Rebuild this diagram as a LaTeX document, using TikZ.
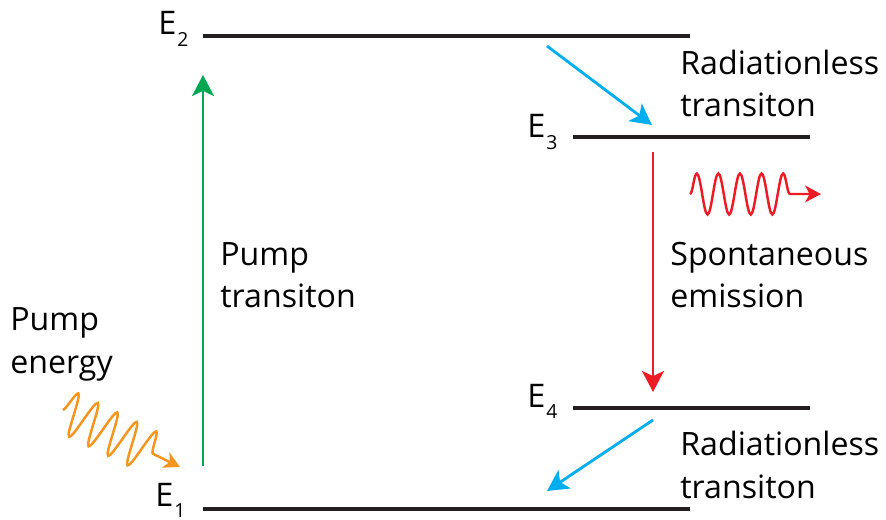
\documentclass[tikz,border=0pt]{standalone}
\usepackage{fontspec}
\setmainfont{Open Sans}
\usetikzlibrary{arrows.meta,decorations.pathmorphing}
\definecolor{levelblack}{HTML}{231F20}
\definecolor{pumpgreen}{HTML}{00A651}
\definecolor{relaxblue}{HTML}{00AEEF}
\definecolor{emitred}{HTML}{ED1C24}
\definecolor{pumporange}{HTML}{F7941D}
\tikzset{
  level/.style={
    line width = 2.8pt,
    draw = levelblack
  },
  trans/.style={
    line width = 1.6pt,
    -{Stealth[length=12pt, width=12.5pt, inset=3pt]}
  },
  photon/.style={
    decorate,
    line width = 1.4pt,
    -{Stealth[length=9pt, width=9.5pt, inset=2.5pt]}
  },
  lbl/.style={
    anchor = base west,
    inner sep = 0pt,
    align = left,
    font = \fontsize{18.3}{24.2}\selectfont
  },
  elbl/.style={
    anchor = base west,
    inner sep = 0pt,
    font = \fontsize{18.5}{18.5}\selectfont
  }
}
\newcommand{\En}[1]{E\kern0.5pt\raisebox{-6.8pt}{\fontsize{11}{11}\selectfont #1}}

\begin{document}
\begin{tikzpicture}[x=0.02cm, y=-0.02cm]
    \useasboundingbox (0,0) rectangle (886,520);
    % energy levels
    \coordinate (E2a) at (203,36);  \coordinate (E2b) at (690,36);
    \coordinate (E3a) at (573,137); \coordinate (E3b) at (810,137);
    \coordinate (E4a) at (573,408); \coordinate (E4b) at (810,408);
    \coordinate (E1a) at (203,509); \coordinate (E1b) at (690,509);
    \foreach \lv in {E1, E2, E3, E4}{
        \draw[level] (\lv a) -- (\lv b);
    }
    \node[elbl] (lE2) at (158,35)  {\En{2}};
    \node[elbl] (lE3) at (527,138) {\En{3}};
    \node[elbl] (lE4) at (527,407) {\En{4}};
    \node[elbl] (lE1) at (155,506) {\En{1}};
    % transitions
    \coordinate (pumpS) at (203,466);  \coordinate (pumpT) at (203,75);
    \coordinate (rad1S) at (547,46);   \coordinate (rad1T) at (652,125);
    \coordinate (spoS)  at (653,152);  \coordinate (spoT)  at (653,392);
    \coordinate (rad2S) at (653,420);  \coordinate (rad2T) at (547,491);
    \draw[trans, pumpgreen] (pumpS) -- (pumpT);
    \draw[trans, relaxblue] (rad1S) -- (rad1T);
    \draw[trans, emitred]   (spoS)  -- (spoT);
    \draw[trans, relaxblue] (rad2S) -- (rad2T);
    % photons
    \coordinate (inS)  at (62.75,409.7); \coordinate (inT)  at (180,467);
    \coordinate (outS) at (690,194);     \coordinate (outT) at (821,194);
    \draw[photon, pumporange, decoration={snake, segment length=0.434cm, amplitude=0.43cm, post length=0.43cm}] (inS) -- (inT);
    \draw[photon, emitred, decoration={snake, segment length=0.432cm, amplitude=0.41cm, post length=0.45cm}] (outS) -- (outT);
    % labels (anchored at the baseline of the last line)
    \node[lbl] (radA) at (680,117) {Radiationless\\transiton};
    \node[lbl] (spon) at (670,308) {Spontaneous\\emission};
    \node[lbl] (radB) at (680,498) {Radiationless\\transiton};
    \node[lbl] (pmpT) at (220,308) {Pump\\transiton};
    \node[lbl] (pmpE) at (10,373)  {Pump\\energy};
\end{tikzpicture}
\end{document}
